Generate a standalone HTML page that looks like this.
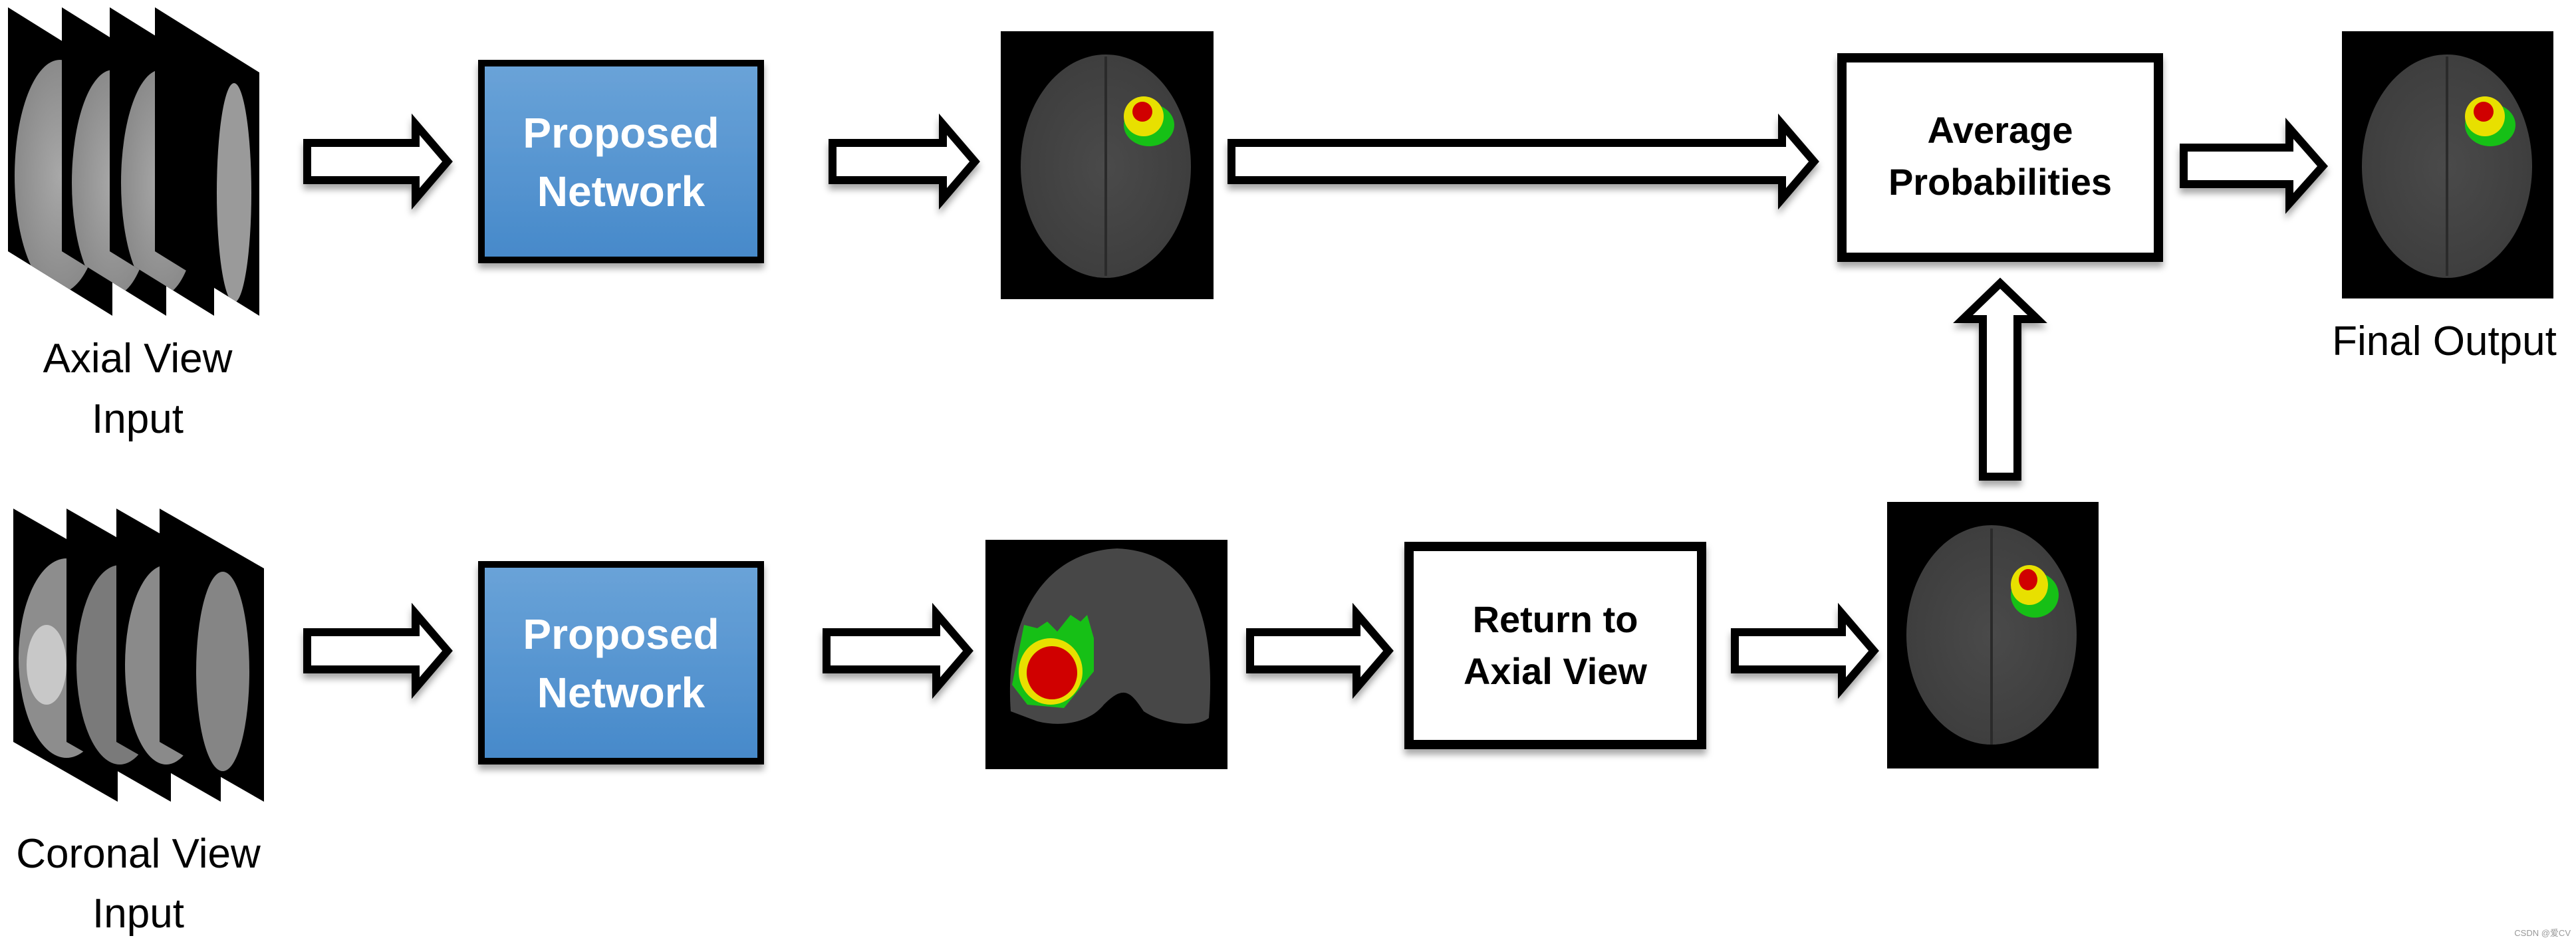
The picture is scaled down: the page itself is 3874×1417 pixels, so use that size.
<!DOCTYPE html>
<html><head><meta charset="utf-8"><style>
html,body{margin:0;padding:0;background:#fff;}
svg{display:block;}
text{font-family:"Liberation Sans",sans-serif;}
</style></head><body>
<svg width="3874" height="1417" viewBox="0 0 3874 1417" xmlns="http://www.w3.org/2000/svg">
<defs>
<linearGradient id="blue" x1="0" y1="0" x2="0" y2="1">
<stop offset="0" stop-color="#6aa3d8"/><stop offset="1" stop-color="#4689ca"/>
</linearGradient>
<filter id="sh" x="-10%" y="-10%" width="130%" height="140%"><feDropShadow dx="0" dy="8" stdDeviation="5" flood-color="#000" flood-opacity="0.35"/></filter>
<radialGradient id="br" cx="0.5" cy="0.5" r="0.5"><stop offset="0" stop-color="#4a4a4a"/><stop offset="1" stop-color="#3e3e3e"/></radialGradient>
<radialGradient id="sl" cx="0.5" cy="0.5" r="0.5"><stop offset="0" stop-color="#a8a8a8"/><stop offset="1" stop-color="#8a8a8a"/></radialGradient>
<clipPath id="a1"><polygon points="12,11 169,109 169,475 12,378"/></clipPath>
<clipPath id="a2"><polygon points="93,11 250,109 250,475 93,378"/></clipPath>
<clipPath id="a3"><polygon points="165,11 322,109 322,475 165,378"/></clipPath>
<clipPath id="a4"><polygon points="233,11 390,109 390,475 233,378"/></clipPath>
<clipPath id="c1"><polygon points="20,765 177,855 177,1206 20,1116"/></clipPath>
<clipPath id="c2"><polygon points="100,765 257,855 257,1206 100,1116"/></clipPath>
<clipPath id="c3"><polygon points="175,765 332,855 332,1206 175,1116"/></clipPath>
<clipPath id="c4"><polygon points="240,765 397,855 397,1206 240,1116"/></clipPath>
</defs>

<!-- Axial stack -->
<g>
<polygon points="12,11 169,109 169,475 12,378" fill="#000"/>
<ellipse clip-path="url(#a1)" cx="90" cy="265" rx="68" ry="175" fill="url(#sl)"/>
<polygon points="93,11 250,109 250,475 93,378" fill="#000"/>
<ellipse clip-path="url(#a2)" cx="170" cy="275" rx="62" ry="170" fill="url(#sl)"/>
<polygon points="165,11 322,109 322,475 165,378" fill="#000"/>
<ellipse clip-path="url(#a3)" cx="242" cy="275" rx="60" ry="170" fill="url(#sl)"/>
<ellipse cx="268" cy="185" rx="14" ry="22" fill="#eee"/>
<polygon points="233,11 390,109 390,475 233,378" fill="#000"/>
<ellipse clip-path="url(#a4)" cx="352" cy="290" rx="26" ry="165" fill="#9a9a9a"/>
</g>
<text x="207" y="560" font-size="62" text-anchor="middle">Axial View</text>
<text x="207" y="651" font-size="62" text-anchor="middle">Input</text>

<!-- Coronal stack -->
<g>
<polygon points="20,765 177,855 177,1206 20,1116" fill="#000"/>
<ellipse clip-path="url(#c1)" cx="100" cy="990" rx="72" ry="150" fill="#8d8d8d"/>
<ellipse clip-path="url(#c1)" cx="70" cy="1000" rx="30" ry="60" fill="#c8c8c8"/>
<polygon points="100,765 257,855 257,1206 100,1116" fill="#000"/>
<ellipse clip-path="url(#c2)" cx="180" cy="1000" rx="65" ry="150" fill="#7a7a7a"/>
<polygon points="175,765 332,855 332,1206 175,1116" fill="#000"/>
<ellipse clip-path="url(#c3)" cx="250" cy="1000" rx="62" ry="150" fill="#8a8a8a"/>
<polygon points="240,765 397,855 397,1206 240,1116" fill="#000"/>
<ellipse clip-path="url(#c4)" cx="335" cy="1010" rx="40" ry="150" fill="#858585"/>
</g>
<text x="208" y="1305" font-size="62" text-anchor="middle">Coronal View</text>
<text x="208" y="1395" font-size="62" text-anchor="middle">Input</text>

<g fill="#fff" stroke="#000" stroke-width="12" stroke-linejoin="miter" filter="url(#sh)">
<polygon points="462,215 625,215 625,187 673,243 625,299 625,271 462,271"/>
<polygon points="1252,215 1418,215 1418,187 1466,243 1418,299 1418,271 1252,271"/>
<polygon points="1852,215 2680,215 2680,187 2728,243 2680,299 2680,271 1852,271"/>
<polygon points="3284,222 3443,222 3443,193 3493,250 3443,306 3443,277 3284,277"/>
<polygon points="462,951 625,951 625,923 673,979 625,1035 625,1007 462,1007"/>
<polygon points="1243,951 1408,951 1408,923 1456,979 1408,1035 1408,1007 1243,1007"/>
<polygon points="1880,951 2040,951 2040,923 2088,979 2040,1035 2040,1007 1880,1007"/>
<polygon points="2609,951 2770,951 2770,923 2818,979 2770,1035 2770,1007 2609,1007"/>
<polygon points="2982,717 2982,480 2952,480 3008,426 3064,480 3034,480 3034,717"/>
</g>

<g filter="url(#sh)">
<rect x="724" y="95" width="420" height="296" fill="url(#blue)" stroke="#000" stroke-width="10"/>
<rect x="724" y="849" width="420" height="296" fill="url(#blue)" stroke="#000" stroke-width="10"/>
<rect x="2770" y="87" width="476" height="300" fill="#fff" stroke="#000" stroke-width="14"/>
<rect x="2119" y="822" width="440" height="298" fill="#fff" stroke="#000" stroke-width="14"/>
</g>
<g font-weight="bold" font-size="64" text-anchor="middle">
<text x="934" y="222" fill="#fff">Proposed</text>
<text x="934" y="310" fill="#fff">Network</text>
<text x="934" y="976" fill="#fff">Proposed</text>
<text x="934" y="1064" fill="#fff">Network</text>
<text x="3008" y="215" font-size="56" fill="#000">Average</text>
<text x="3008" y="293" font-size="56" fill="#000">Probabilities</text>
<text x="2339" y="951" font-size="56" fill="#000">Return to</text>
<text x="2339" y="1029" font-size="56" fill="#000">Axial View</text>
</g>

<g>
<rect x="1505" y="47" width="320" height="403" fill="#000"/>
<ellipse cx="1663" cy="250" rx="128" ry="168" fill="url(#br)"/>
<line x1="1663" y1="85" x2="1663" y2="415" stroke="#2a2a2a" stroke-width="4"/>
<ellipse cx="1728" cy="188" rx="38" ry="32" fill="#16c016"/>
<ellipse cx="1720" cy="175" rx="30" ry="30" fill="#e8e000"/>
<ellipse cx="1718" cy="168" rx="15" ry="15" fill="#d00000"/>
</g>
<g>
<rect x="3522" y="47" width="318" height="402" fill="#000"/>
<ellipse cx="3680" cy="250" rx="128" ry="168" fill="url(#br)"/>
<line x1="3680" y1="85" x2="3680" y2="415" stroke="#2a2a2a" stroke-width="4"/>
<ellipse cx="3745" cy="188" rx="38" ry="32" fill="#16c016"/>
<ellipse cx="3737" cy="175" rx="30" ry="30" fill="#e8e000"/>
<ellipse cx="3735" cy="168" rx="15" ry="15" fill="#d00000"/>
</g>
<text x="3676" y="534" font-size="62" text-anchor="middle">Final Output</text>
<g>
<rect x="2838" y="755" width="318" height="401" fill="#000"/>
<ellipse cx="2995" cy="955" rx="128" ry="165" fill="url(#br)"/>
<line x1="2995" y1="795" x2="2995" y2="1120" stroke="#2a2a2a" stroke-width="4"/>
<ellipse cx="3060" cy="895" rx="36" ry="34" fill="#16c016"/>
<ellipse cx="3052" cy="880" rx="28" ry="30" fill="#e8e000"/>
<ellipse cx="3050" cy="872" rx="14" ry="16" fill="#d00000"/>
</g>

<g>
<rect x="1482" y="812" width="364" height="345" fill="#000"/>
<path d="M1520,1070 C1510,930 1570,830 1680,825 C1790,830 1830,920 1818,1080 C1800,1095 1750,1090 1720,1070 C1700,1040 1690,1030 1660,1060 C1640,1085 1600,1095 1560,1085 Z" fill="#474747"/>
<path d="M1540,940 L1560,945 1575,935 1590,950 1610,925 1625,935 1635,925 1645,960 1645,1010 1600,1065 1545,1060 1522,1030 Z" fill="#16c016"/>
<ellipse cx="1580" cy="1010" rx="48" ry="50" fill="#e8e000"/>
<ellipse cx="1582" cy="1012" rx="38" ry="40" fill="#d00000"/>
</g>

<text x="3866" y="1408" font-size="13" fill="#999" text-anchor="end" font-family="Liberation Sans, Noto Sans CJK SC, sans-serif">CSDN @爱CV</text>
</svg>
</body></html>
